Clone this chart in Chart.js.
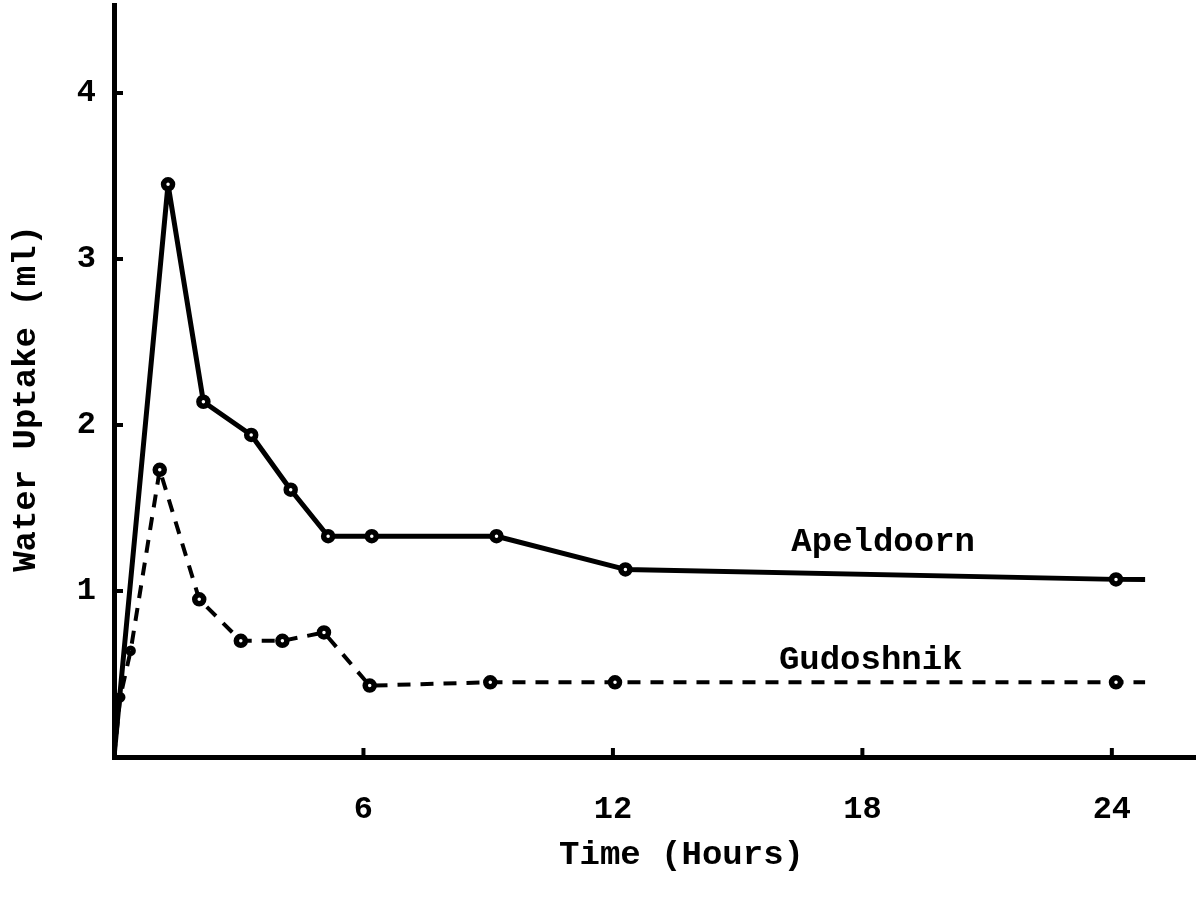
<!DOCTYPE html>
<html>
<head>
<meta charset="utf-8">
<script src="https://cdn.jsdelivr.net/npm/chart.js@4"></script>
<style>
  html, body { margin: 0; padding: 0; background: #fff; }
  #wrap { width: 1198px; height: 908px; }
</style>
</head>
<body>
<div id="wrap"><canvas id="myChart"></canvas></div>
<script>
// dati
var oreApeldoorn = [0, 1.3, 2.15, 3.3, 4.25, 5.15, 6.2, 9.2, 12.3, 24.1, 24.8];
var apeldoorn = [0, 3.45, 2.14, 1.94, 1.61, 1.33, 1.33, 1.33, 1.13, 1.07, 1.07];
var oreGudoshnik = [0, 0.15, 0.4, 1.1, 2.05, 3.05, 4.05, 5.05, 6.15, 9.05, 12.05, 24.1, 24.8];
var gudoshnik = [0, 0.36, 0.64, 1.73, 0.95, 0.70, 0.70, 0.75, 0.43, 0.45, 0.45, 0.45, 0.45];
var tickX = [6, 12, 18, 24];
var tickY = [1, 2, 3, 4];
var etichette = [
  { testo: "Apeldoorn", x: 18.5, y: 1.29 },
  { testo: "Gudoshnik", x: 18.2, y: 0.58 }
];
var titoloX = "Time (Hours)";
var titoloY = "Water Uptake (ml)";

var font = "Liberation Mono";

function punti(xs, ys) {
  return xs.map(function (x, i) { return { x: x, y: ys[i] }; });
}

var extra = {
  id: "extra",
  afterDraw: function (chart) {
    var c = chart.ctx;
    var sx = chart.scales.x, sy = chart.scales.y;
    c.save();
    c.strokeStyle = "#000";
    c.lineWidth = 4;
    // tacche interne
    tickY.forEach(function (v) {
      var py = sy.getPixelForValue(v);
      c.beginPath();
      c.moveTo(sx.left, py);
      c.lineTo(sx.left + 9, py);
      c.stroke();
    });
    tickX.forEach(function (v) {
      var px = sx.getPixelForValue(v);
      c.beginPath();
      c.moveTo(px, sy.bottom);
      c.lineTo(px, sy.bottom - 9);
      c.stroke();
    });
    c.fillStyle = "#000";
    c.font = "bold 34px '" + font + "'";
    c.textAlign = "center";
    c.textBaseline = "middle";
    etichette.forEach(function (e) {
      c.fillText(e.testo, sx.getPixelForValue(e.x), sy.getPixelForValue(e.y));
    });
    // titoli assi
    c.fillText(titoloX, sx.getPixelForValue(13.65), sy.bottom + 98);
    c.translate(26, sy.getPixelForValue(2.16));
    c.rotate(-Math.PI / 2);
    c.fillText(titoloY, 0, 0);
    c.restore();
  }
};

var ctx = document.getElementById("myChart");
var myChart = new Chart(ctx, {
  type: "line",
  data: {
    datasets: [
      {
        label: "Apeldoorn",
        data: punti(oreApeldoorn, apeldoorn),
        borderColor: "#000",
        borderWidth: 5,
        borderJoinStyle: "round",
        pointRadius: function (c) {
          return (c.dataIndex === 0 || c.dataIndex === oreApeldoorn.length - 1) ? 0 : 4.5;
        },
        pointBackgroundColor: "#fff",
        pointBorderColor: "#000",
        pointBorderWidth: 5.5,
        tension: 0
      },
      {
        label: "Gudoshnik",
        data: punti(oreGudoshnik, gudoshnik),
        borderColor: "#000",
        borderWidth: 4,
        borderDash: [13, 10],
        borderJoinStyle: "round",
        pointRadius: function (c) {
          if (c.dataIndex === 0 || c.dataIndex === oreGudoshnik.length - 1) return 0;
          return c.dataIndex < 3 ? 2.5 : 4.5;
        },
        pointBackgroundColor: "#fff",
        pointBorderColor: "#000",
        pointBorderWidth: 5.5,
        tension: 0
      }
    ]
  },
  options: {
    responsive: true,
    maintainAspectRatio: false,
    animation: false,
    layout: { padding: { top: 5, right: 3, left: 0, bottom: 0 } },
    plugins: {
      legend: { display: false },
      tooltip: { enabled: false }
    },
    scales: {
      x: {
        type: "linear",
        min: 0,
        max: 26,
        afterBuildTicks: function (s) {
          s.ticks = tickX.map(function (v) { return { value: v }; });
        },
        afterFit: function (s) { s.height = 151; s.paddingRight = 0; s.paddingLeft = 0; },
        grid: { display: false },
        border: { display: true, color: "#000", width: 5 },
        ticks: {
          color: "#000",
          padding: 26,
          maxRotation: 0,
          font: { family: font, size: 32, weight: "bold" }
        }
      },
      y: {
        min: 0,
        max: 4.53,
        afterBuildTicks: function (s) {
          s.ticks = tickY.map(function (v) { return { value: v }; });
        },
        afterFit: function (s) { s.width = 114; s.paddingTop = 0; s.paddingBottom = 0; },
        grid: { display: false },
        border: { display: true, color: "#000", width: 5 },
        ticks: {
          color: "#000",
          padding: 10,
          font: { family: font, size: 32, weight: "bold" }
        }
      }
    }
  },
  plugins: [extra]
});
</script>
</body>
</html>
